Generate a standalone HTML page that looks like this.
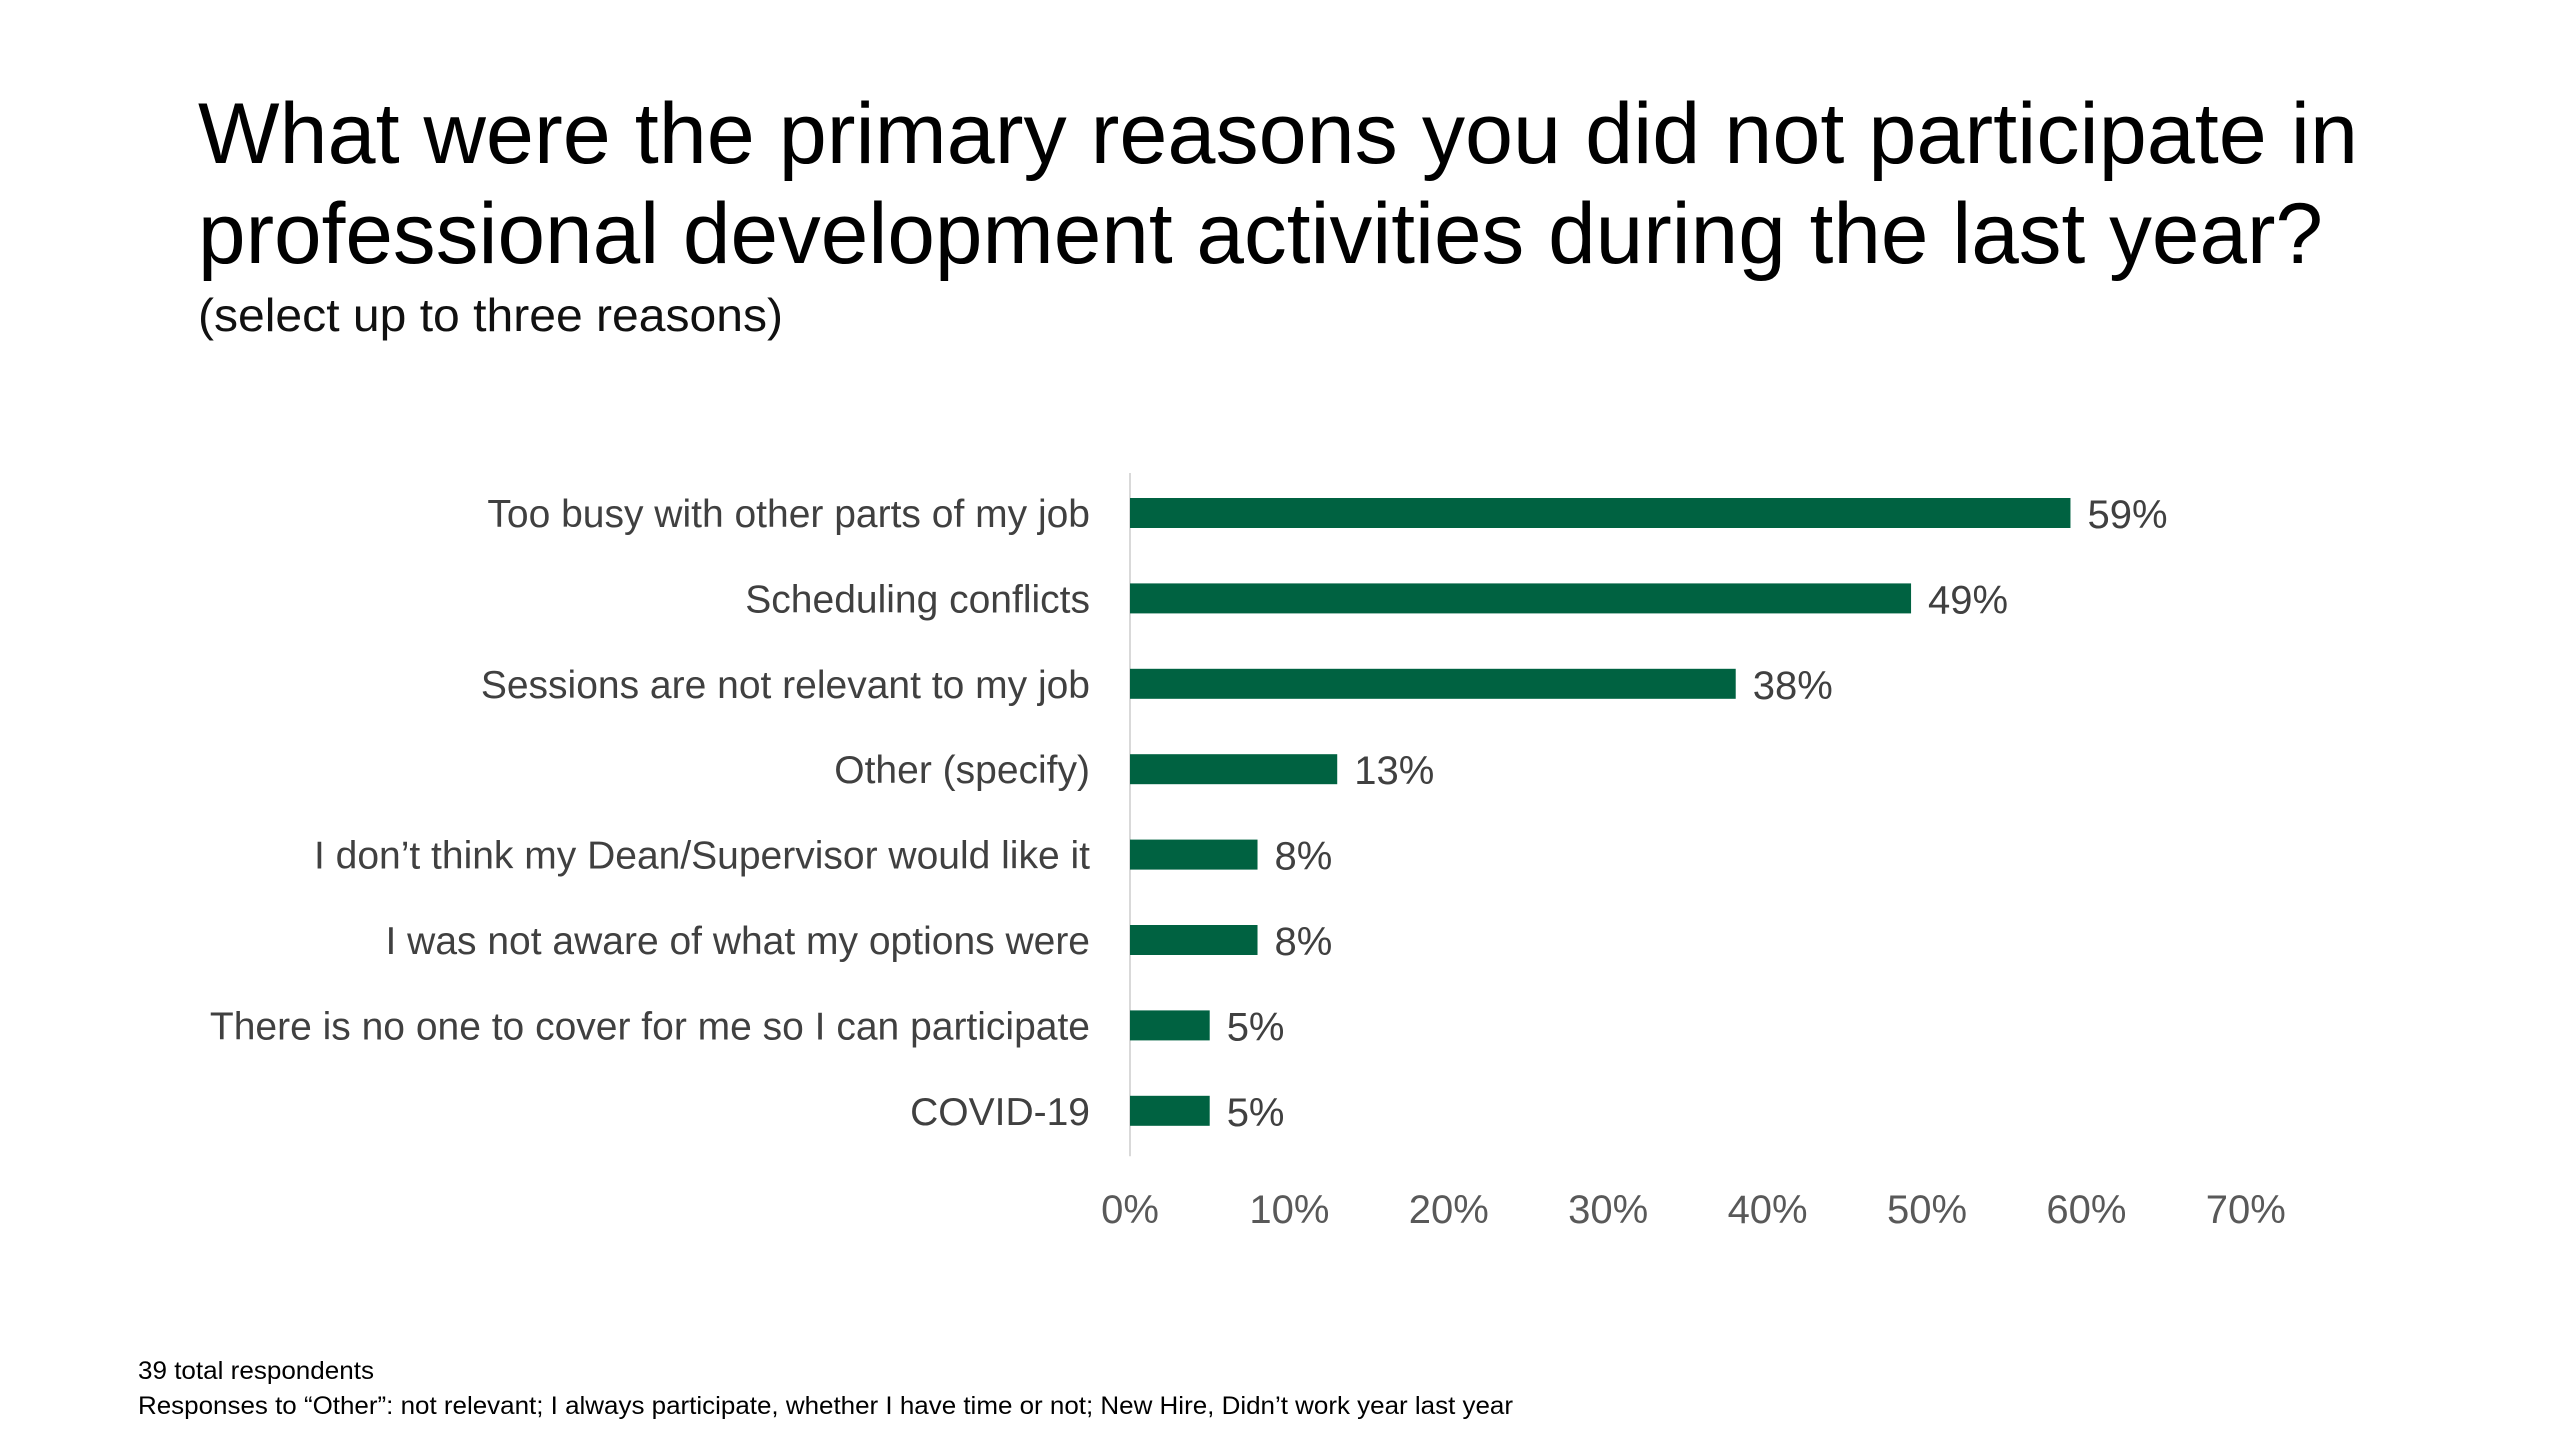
<!DOCTYPE html>
<html><head><meta charset="utf-8"><style>
html,body{margin:0;padding:0;background:#fff;}
svg{display:block;font-family:"Liberation Sans",sans-serif;}
</style></head><body>
<svg id="chart" width="2560" height="1440" viewBox="0 0 2560 1440" xmlns="http://www.w3.org/2000/svg">
<rect width="2560" height="1440" fill="#fff"/>
<text x="198" y="163" font-size="86" fill="#000" textLength="2160" lengthAdjust="spacingAndGlyphs">What were the primary reasons you did not participate in</text>
<text x="198" y="263" font-size="86" fill="#000" textLength="2125" lengthAdjust="spacingAndGlyphs">professional development activities during the last year?</text>
<text x="198" y="331" font-size="46" fill="#111" textLength="585" lengthAdjust="spacingAndGlyphs">(select up to three reasons)</text>
<g id="plot"></g>
<text x="138" y="1379" font-size="25" fill="#000" textLength="236" lengthAdjust="spacingAndGlyphs">39 total respondents</text>
<text x="138" y="1414" font-size="25" fill="#000" textLength="1375" lengthAdjust="spacingAndGlyphs">Responses to “Other”:  not relevant; I always participate, whether I have time or not; New Hire, Didn’t work year last year</text>
</svg>
<script>
const categories = ["Too busy with other parts of my job","Scheduling conflicts","Sessions are not relevant to my job","Other (specify)","I don’t think my Dean/Supervisor would like it","I was not aware of what my options were","There is no one to cover for me so I can participate","COVID-19"];
const values = [59,49,38,13,8,8,5,5];
const valueLabels = ["59%","49%","38%","13%","8%","8%","5%","5%"];
const ticks = [0,10,20,30,40,50,60,70];
const tickLabels = ["0%","10%","20%","30%","40%","50%","60%","70%"];

const NS = "http://www.w3.org/2000/svg";
const g = document.getElementById('plot');
const x0 = 1130, pxPer = 15.94;
const xScale = v => x0 + v * pxPer;
const yTop = 473, bandH = 85.4, barH = 30;
const yCenter = i => yTop + 40 + i * bandH;
function mk(tag, attrs, txt){
  const el = document.createElementNS(NS, tag);
  for (const k in attrs) el.setAttribute(k, attrs[k]);
  if (txt !== undefined) el.textContent = txt;
  g.appendChild(el);
  return el;
}
const axis = mk('line', {x1:xScale(0), x2:xScale(0), y1:yTop, y2:yTop + 8*bandH, stroke:'#d9d9d9', 'stroke-width':2});


categories.forEach((c, i) => {
  const cy = yCenter(i);
  const bar = mk('rect', {x:xScale(0), y:cy - barH/2, width:xScale(values[i]) - xScale(0), height:barH, fill:'#006241'});
  
  
  const lab = mk('text', {x:1090, y:cy + 14, 'text-anchor':'end', 'font-size':39, fill:'#404040'}, c);
  
  
  const vl = mk('text', {x:xScale(values[i]) + 17, y:cy + 15, 'font-size':40, fill:'#404040'}, valueLabels[i]);
  
  
});
ticks.forEach((t, i) => {
  const tl = mk('text', {x:xScale(t), y:1223, 'text-anchor':'middle', 'font-size':40, fill:'#595959'}, tickLabels[i]);
  
  
});
</script>
</body></html>
